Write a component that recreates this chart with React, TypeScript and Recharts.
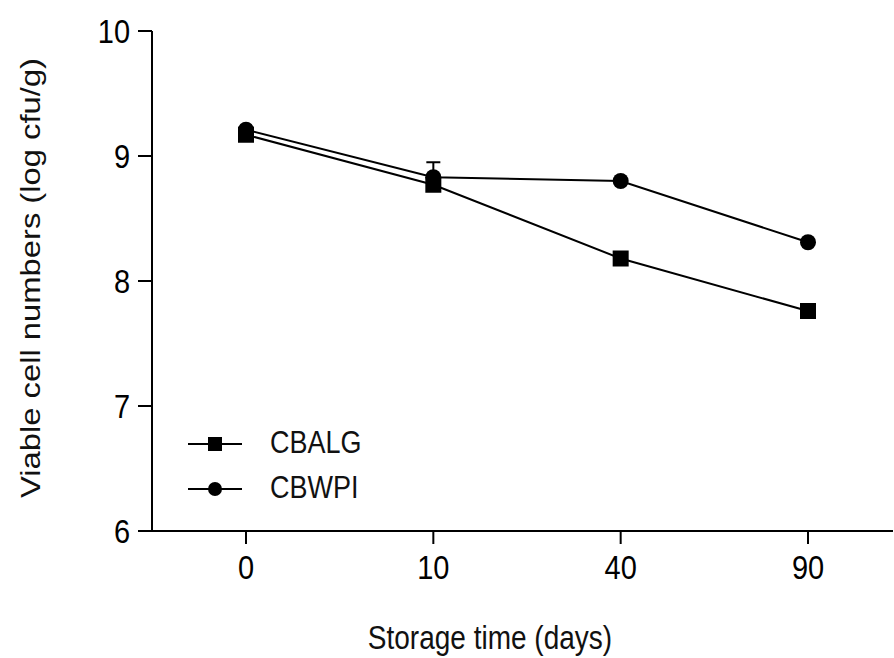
import { LineChart, Line, XAxis, YAxis, ErrorBar } from 'recharts';

const days = ['0', '10', '40', '90'];
const cbalg = [9.17, 8.77, 8.18, 7.76];
const cbwpi = [9.21, 8.83, 8.8, 8.31];
// upper-only SD shown in the figure (lower arms are hidden by the markers)
const cbwpiErr: [number, number][] = [[0, 0], [0, 0.12], [0, 0], [0, 0]];
const yTicks = [6, 7, 8, 9, 10];

const FONT = '"Liberation Sans", Arial, sans-serif';
const STRETCH = 1.17; // source image is a bit taller than wide, text looks stretched

const data = days.map((d, i) => ({
  day: d,
  CBALG: cbalg[i],
  CBWPI: cbwpi[i],
  wpiErr: cbwpiErr[i],
}));

const SquareDot = (props: any) => {
  const { cx, cy } = props;
  if (cx == null || cy == null) return null;
  return <rect x={cx - 8} y={cy - 8} width={16} height={16} fill="#000" />;
};

const CircleDot = (props: any) => {
  const { cx, cy } = props;
  if (cx == null || cy == null) return null;
  return <circle cx={cx} cy={cy} r={8} fill="#000" />;
};

const XTick = (props: any) => {
  const { x, y, payload } = props;
  return (
    <g transform={`translate(${x},${y}) scale(1,${STRETCH})`}>
      <text textAnchor="middle" dy="0.71em" fontSize={29} fontFamily={FONT} fill="#000">
        {payload.value}
      </text>
    </g>
  );
};

const YTick = (props: any) => {
  const { x, y, payload } = props;
  return (
    <g transform={`translate(${x},${y}) scale(1,${STRETCH})`}>
      <text textAnchor="end" dy="0.355em" fontSize={29} fontFamily={FONT} fill="#000">
        {payload.value}
      </text>
    </g>
  );
};

// legend drawn as an overlay so it doesn't eat chart space
function LegendBox() {
  const items = [
    { name: 'CBALG', shape: 'square' },
    { name: 'CBWPI', shape: 'circle' },
  ];
  return (
    <div style={{ position: 'absolute', left: 188, top: 421, fontFamily: FONT }}>
      {items.map((it) => (
        <div key={it.name} style={{ display: 'flex', alignItems: 'center', height: 45 }}>
          <svg width={56} height={20}>
            <line x1={0} y1={10} x2={54} y2={10} stroke="#000" strokeWidth={2} />
            {it.shape === 'square' ? (
              <rect x={20} y={3} width={14} height={14} fill="#000" />
            ) : (
              <circle cx={27} cy={10} r={7} fill="#000" />
            )}
          </svg>
          <span
            style={{
              marginLeft: 26,
              fontSize: 27,
              color: '#111',
              display: 'inline-block',
              transform: `scaleY(${STRETCH})`,
            }}
          >
            {it.name}
          </span>
        </div>
      ))}
    </div>
  );
}

export default function App() {
  return (
    <div style={{ position: 'absolute', left: 0, top: 0, width: 894, height: 658, background: '#fff' }}>
      <LineChart
        width={894}
        height={658}
        data={data}
        margin={{ top: 31, right: 1, bottom: 87, left: 92 }}
      >
        <XAxis
          dataKey="day"
          type="category"
          scale="point"
          padding={{ left: 94, right: 85 }}
          height={40}
          axisLine={{ stroke: '#000', strokeWidth: 2 }}
          tickLine={{ stroke: '#000', strokeWidth: 2 }}
          tickSize={13}
          tickMargin={11}
          tick={<XTick />}
        />
        <YAxis
          domain={[6, 10]}
          ticks={yTicks}
          width={60}
          axisLine={{ stroke: '#000', strokeWidth: 2 }}
          tickLine={{ stroke: '#000', strokeWidth: 2 }}
          tickSize={14}
          tickMargin={8}
          tick={<YTick />}
        />
        <Line
          dataKey="CBALG"
          stroke="#000"
          strokeWidth={2}
          dot={<SquareDot />}
          activeDot={false}
          isAnimationActive={false}
        />
        <Line
          dataKey="CBWPI"
          stroke="#000"
          strokeWidth={2}
          dot={<CircleDot />}
          activeDot={false}
          isAnimationActive={false}
        >
          <ErrorBar dataKey="wpiErr" direction="y" width={7} stroke="#000" strokeWidth={2} isAnimationActive={false} />
        </Line>
      </LineChart>
      <LegendBox />
      <div
        style={{
          position: 'absolute',
          left: 31,
          top: 278,
          transform: `translate(-50%, -50%) rotate(-90deg) scaleX(${STRETCH})`,
          whiteSpace: 'nowrap',
          fontFamily: FONT,
          fontSize: 28,
          color: '#111',
        }}
      >
        Viable cell numbers (log cfu/g)
      </div>
      <div
        style={{
          position: 'absolute',
          left: 490,
          top: 638,
          transform: `translate(-50%, -50%) scaleY(${STRETCH})`,
          whiteSpace: 'nowrap',
          fontFamily: FONT,
          fontSize: 28,
          color: '#111',
        }}
      >
        Storage time (days)
      </div>
    </div>
  );
}
